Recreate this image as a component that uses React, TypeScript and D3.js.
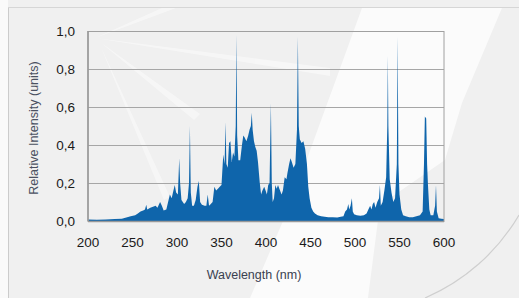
import React from "react";
import * as d3 from "d3";

// spectrum (nm, relative intensity)
const wavelengths = [
  200, 210, 220, 230, 238, 243, 248, 253, 256, 259, 262, 264, 265.5, 266.5, 270, 273, 276, 278, 281, 283,
  285, 288, 290, 292, 294, 296, 297.5, 299, 301, 302.5, 303.5, 305, 308, 310, 312, 313.5, 314.5, 315.5, 317, 319,
  321, 323, 324.5, 326, 328, 331, 333, 334.5, 336, 338, 340, 342, 344, 346, 348, 350, 352, 353.5, 354.5, 355.5,
  357, 358.5, 360, 361.5, 363, 364.5, 366, 366.8, 367.6, 369, 371, 373, 374.5, 376, 378, 380, 381.5, 383, 384, 385,
  386.5, 388, 389.5, 391, 393, 394.5, 396, 398, 399.5, 401, 402.5, 404, 405.5, 406.5, 407.5, 409, 410.5, 412, 413.5, 415,
  417.5, 419, 421, 423, 424, 426, 427.5, 429, 431, 433, 434.8, 435.8, 436.8, 438, 440, 442, 444, 446,
  447.5, 449, 451, 453, 455, 458, 462, 466, 470, 475, 480, 484, 487, 489, 491, 492.5, 493.5, 495, 496.5, 497.5,
  499, 502, 506, 510, 513, 515, 517, 518.5, 520, 521.5, 523, 525, 527, 528, 529, 531, 533, 535, 536.3, 536.9,
  537.5, 539, 541, 543, 545, 547, 547.9, 548.8, 550, 552, 554, 557, 561, 565, 569, 573, 576, 577.5, 578.5, 580,
  581, 582, 583.5, 585, 588, 590, 591, 592, 594, 597, 600,
];
const intensity = [
  0.008, 0.006, 0.008, 0.01, 0.012, 0.018, 0.025, 0.03, 0.04, 0.05, 0.055, 0.06, 0.085, 0.06, 0.07, 0.075, 0.08, 0.07, 0.1, 0.08,
  0.055, 0.06, 0.1, 0.14, 0.12, 0.16, 0.19, 0.15, 0.14, 0.33, 0.2, 0.11, 0.09, 0.1, 0.12, 0.2, 0.5, 0.15, 0.08, 0.08,
  0.11, 0.18, 0.21, 0.1, 0.085, 0.08, 0.08, 0.14, 0.08, 0.09, 0.1, 0.18, 0.16, 0.17, 0.18, 0.19, 0.35, 0.3, 0.52, 0.3,
  0.28, 0.41, 0.42, 0.31, 0.36, 0.34, 0.5, 0.98, 0.45, 0.32, 0.32, 0.4, 0.45, 0.44, 0.42, 0.45, 0.48, 0.5, 0.57, 0.48,
  0.42, 0.39, 0.37, 0.31, 0.2, 0.14, 0.16, 0.18, 0.16, 0.14, 0.19, 0.2, 0.62, 0.2, 0.1, 0.12, 0.19, 0.17, 0.19, 0.17,
  0.14, 0.16, 0.23, 0.22, 0.25, 0.3, 0.33, 0.31, 0.28, 0.3, 0.48, 0.97, 0.5, 0.43, 0.41, 0.42, 0.38, 0.3,
  0.18, 0.12, 0.07, 0.05, 0.04, 0.03, 0.025, 0.022, 0.02, 0.02, 0.018, 0.022, 0.025, 0.05, 0.06, 0.09, 0.06, 0.08, 0.12, 0.05,
  0.035, 0.03, 0.028, 0.03, 0.04, 0.06, 0.08, 0.06, 0.09, 0.1, 0.07, 0.1, 0.12, 0.19, 0.08, 0.1, 0.16, 0.23, 0.5, 0.87,
  0.5, 0.22, 0.15, 0.1, 0.12, 0.3, 0.97, 0.3, 0.14, 0.06, 0.03, 0.025, 0.02, 0.02, 0.025, 0.03, 0.05, 0.3, 0.55, 0.54,
  0.3, 0.19, 0.06, 0.03, 0.03, 0.08, 0.19, 0.05, 0.015, 0.012, 0.01,
];
const xTicks = [200, 250, 300, 350, 400, 450, 500, 550, 600];
const yTicks = [0, 0.2, 0.4, 0.6, 0.8, 1.0];

const W = 519;
const H = 298;
const margin = { top: 31, right: 75, bottom: 77, left: 88 };

const App = () => {
  const innerW = W - margin.left - margin.right;
  const innerH = H - margin.top - margin.bottom;

  const x = d3.scaleLinear().domain([200, 600]).range([0, innerW]);
  const y = d3.scaleLinear().domain([0, 1]).range([innerH, 0]);

  const points = wavelengths.map((w, i) => [w, intensity[i]] as [number, number]);
  const area = d3
    .area<[number, number]>()
    .x(d => x(d[0]))
    .y0(innerH)
    .y1(d => y(d[1]));

  const fmt = (v: number) => d3.format(".1f")(v).replace(".", ",");
  const font = "'Liberation Sans', Arial, sans-serif";

  return (
    <svg width={W} height={H} style={{ position: "fixed", left: 0, top: 0 }}>
      {/* background + faint watermark */}
      <rect width={W} height={H} fill="#f0f0f0" />
      <rect x={0} y={0} width={8} height={H} fill="#fafafa" />
      <g fill="#ffffff" opacity={0.7}>
        <polygon points="362,8 502,8 462,103 445,160 380,205 368,298 250,298 292,200" />
      </g>
      <g fill="#ffffff" opacity={0.45}>
        <polygon points="95,38 162,8 176,8" />
        <polygon points="95,38 330,68 330,76" />
        <polygon points="100,42 200,114 194,120" />
        <polygon points="100,45 170,197 164,200" />
      </g>
      <path d="M 519 215 A 200 200 0 0 1 425 298" fill="none" stroke="#cfcfcf" strokeWidth={1.2} />
      <line x1={8.5} y1={7} x2={8.5} y2={H} stroke="#cccccc" />
      <line x1={8} y1={7.5} x2={W} y2={7.5} stroke="#d6d6d6" />

      <g transform={`translate(${margin.left},${margin.top})`}>
        {yTicks.map(t => (
          <line key={t} x1={0} x2={innerW} y1={Math.round(y(t)) + 0.5} y2={Math.round(y(t)) + 0.5} stroke="#a6a6a6" />
        ))}
        <path d={area(points) || ""} fill="#0f65ab" />
        <rect x={0} y={0.5} width={innerW} height={innerH} fill="none" stroke="#a0a0a0" />
        <line x1={0} x2={0} y1={0} y2={innerH} stroke="#999" strokeWidth={1.5} />
        <line x1={0} x2={innerW} y1={innerH + 0.5} y2={innerH + 0.5} stroke="#999" strokeWidth={1.5} />

        {yTicks.map(t => (
          <text key={t} x={-13} y={y(t)} dy="0.36em" textAnchor="end" fontFamily={font} fontSize={13.5} fill="#1a1a1a">
            {fmt(t)}
          </text>
        ))}
        {xTicks.map(t => (
          <text key={t} x={x(t)} y={innerH + 26} textAnchor="middle" fontFamily={font} fontSize={13.5} fill="#1a1a1a">
            {t}
          </text>
        ))}
        <text x={innerW / 2 - 12} y={innerH + 58} textAnchor="middle" fontFamily={font} fontSize={12.5} fill="#3a4150">
          Wavelength (nm)
        </text>
        <text
          transform={`translate(${-50},${innerH / 2 + 2}) rotate(-90)`}
          textAnchor="middle"
          fontFamily={font}
          fontSize={12.5}
          fill="#4a5160"
        >
          Relative Intensity (units)
        </text>
      </g>
    </svg>
  );
};

export default App;
